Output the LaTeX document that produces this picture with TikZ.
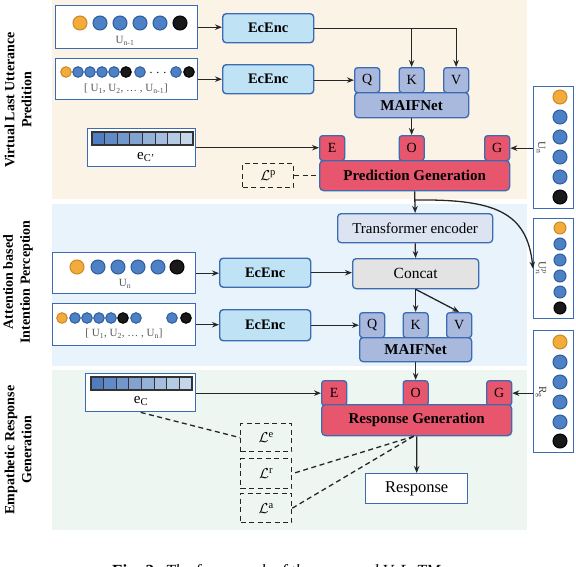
\documentclass[tikz,border=0pt]{standalone}
\usepackage{fontspec}
\setmainfont{Liberation Serif}
\usetikzlibrary{arrows.meta}
\definecolor{bord}{HTML}{3B6CB3}
\definecolor{peach}{HTML}{FCF3E7}
\definecolor{lblue}{HTML}{E9F3FB}
\definecolor{lgreen}{HTML}{EDF6F1}
\definecolor{encc}{HTML}{BFE2F5}
\definecolor{qkvc}{HTML}{A9B9DD}
\definecolor{redc}{HTML}{E8566D}
\definecolor{tec}{HTML}{DCE3F1}
\definecolor{ccc}{HTML}{E3E3E3}
\definecolor{orf}{HTML}{F3AC3C}
\definecolor{ord}{HTML}{C98A25}
\definecolor{blf}{HTML}{4E80C6}
\definecolor{bld}{HTML}{2E5E9E}
\definecolor{sqA}{HTML}{4F7DC0}
\definecolor{sqB}{HTML}{C6D6EA}
\definecolor{labg}{HTML}{555555}
\tikzset{
  ubox/.style={draw=bord, line width=1.4pt, fill=white, anchor=north west, inner sep=0pt},
  enc/.style={draw=bord, line width=1.4pt, fill=encc, rounded corners=3.5pt, anchor=north west,
    font=\bfseries\fontsize{14.5}{16}\selectfont, minimum width=91pt, minimum height=29pt, inner sep=0pt},
  qkv/.style={draw=bord, line width=1.3pt, fill=qkvc, rounded corners=3pt, anchor=north west,
    font=\fontsize{14}{15}\selectfont, minimum width=25pt, minimum height=25pt, inner sep=0pt},
  mbar/.style={draw=bord, line width=1.3pt, fill=qkvc, rounded corners=3.5pt, anchor=north west,
    font=\bfseries\fontsize{15}{16}\selectfont, inner sep=0pt},
  rbox/.style={draw=bord, line width=1.3pt, fill=redc, rounded corners=3pt, anchor=north west,
    font=\fontsize{14}{15}\selectfont, minimum width=25pt, minimum height=25pt, inner sep=0pt},
  rbar/.style={draw=bord, line width=1.3pt, fill=redc, rounded corners=4pt, anchor=north west,
    font=\bfseries\fontsize{15}{16}\selectfont, inner sep=0pt},
  lbox/.style={draw=black!85, line width=1.3pt, dash pattern=on 5pt off 3.5pt, anchor=north west,
    font=\fontsize{15}{16}\selectfont, inner sep=0pt},
  arr/.style={-{Stealth[length=7pt,width=5.5pt]}, line width=1.3pt, draw=black!85},
  dsh/.style={line width=1.3pt, draw=black!85, dash pattern=on 5pt off 3.5pt},
  glab/.style={text=labg, font=\fontsize{11}{12}\selectfont, inner sep=0pt},
  side/.style={rotate=90, align=center, font=\bfseries\fontsize{14}{17}\selectfont},
  orc/.style={fill=orf, draw=ord, line width=1pt},
  blc/.style={fill=blf, draw=bld, line width=1pt},
  bkc/.style={fill=black!90, draw=black, line width=1pt}
}
\begin{document}
\begin{tikzpicture}[x=1pt,y=-1pt]
\useasboundingbox (0,0) rectangle (576,566);
% bands
\fill[peach] (52,0) rectangle (527,199);
\fill[lblue] (52,204) rectangle (527,366);
\fill[lgreen] (52,370) rectangle (527,530);
% side labels
\node[side] (s1) at (18,100) {Virtual Last Utterance\\Predition};
\node[side] (s2) at (18,282) {Attention based\\Intention Perception};
\node[side] (s3) at (18,450) {Empathetic Response\\Generation};

% ---------- top band ----------
\node[ubox, minimum width=142pt, minimum height=43pt] (ub1) at (55,5) {};
\filldraw[orc] (80,23) circle (7pt);
\foreach \x in {100,120,140,160} \filldraw[blc] (\x,23) circle (7pt);
\filldraw[bkc] (180,23) circle (7pt);
\node[glab] (l1) at (125,41) {U\textsubscript{n-1}};

\node[ubox, minimum width=142pt, minimum height=41pt] (ub2) at (55,58) {};
\filldraw[orc] (66,72) circle (5.3pt);
\foreach \x in {78,90,102,114,140,176} \filldraw[blc] (\x,72) circle (5.3pt);
\filldraw[bkc] (126,72) circle (5.3pt);
\filldraw[bkc] (189,72) circle (5.3pt);
\node[inner sep=0pt, font=\fontsize{12}{12}\selectfont] (dt1) at (158,73) {. . .};
\node[glab] (l2) at (126,89) {[ U\textsubscript{1}, U\textsubscript{2}, … , U\textsubscript{n-1}]};

\node[enc] (enc1) at (222,13) {EcEnc};
\node[enc] (enc2) at (222,64) {EcEnc};
\draw[arr] (ub1.east) -- (ub1.east -| enc1.west);
\draw[arr] (ub2.east) -- (ub2.east -| enc2.west);

\node[qkv] (q1) at (354,67) {Q};
\node[qkv] (k1) at (398.5,67) {K};
\node[qkv] (v1) at (443,67) {V};
\node[mbar, minimum width=114pt, minimum height=25pt] (mf1) at (354,92) {MAIFNet};
\draw[arr] (enc2.east |- q1.west) -- (q1.west);
\draw[arr] (enc1.east) -| (v1.north);
\draw[arr] (enc1.east -| k1.north) -- (k1.north);

\node[rbox] (e1) at (319,135) {E};
\node[rbox] (o1) at (398.5,135) {O};
\node[rbox] (g1) at (484,135) {G};
\node[rbar, minimum width=190pt, minimum height=30pt] (pg) at (319,160) {Prediction Generation};
\draw[arr] (mf1.south) -- (o1.north);

\node[ubox, minimum width=108pt, minimum height=38pt] (ecp) at (87,128) {};
\foreach \i in {0,...,7}{
  \pgfmathtruncatemacro\p{100-\i*100/7}
  \filldraw[fill=sqA!\p!sqB, draw=black!80, line width=1.1pt] (92+\i*12.625,132) rectangle ++(12.625,13);
}
\node[inner sep=0pt, font=\fontsize{15}{16}\selectfont] (lecp) at (146,157) {e\textsubscript{C'}};
\draw[arr] (ecp.east) -- (ecp.east -| e1.west);

\node[lbox, minimum width=51pt, minimum height=24pt] (lp) at (242,163) {$\mathcal{L}^{\mathrm{p}}$};
\draw[dsh] (lp.east) -- (lp.east -| pg.west);

% right column
\node[ubox, minimum width=40pt, minimum height=122pt] (un) at (533,86) {};
\filldraw[orc] (560,97) circle (7pt);
\foreach \y in {117,137,157,177} \filldraw[blc] (560,\y) circle (7pt);
\filldraw[bkc] (560,197) circle (7pt);
\node[rotate=-90, glab, text=black!75] (lun) at (541,148) {U\textsubscript{n}};
\draw[arr] (un.west |- g1.east) -- (g1.east);

\node[ubox, minimum width=40pt, minimum height=100pt] (upn) at (533,218) {};
\filldraw[orc] (560,228) circle (6pt);
\foreach \y in {244,260,276,292} \filldraw[blc] (560,\y) circle (6pt);
\filldraw[bkc] (560,308) circle (6pt);
\node[rotate=-90, glab, text=black!75] (lupn) at (541,268) {U$^{p}_{n}$};

\node[ubox, minimum width=40pt, minimum height=122pt] (rgb) at (533,330) {};
\filldraw[orc] (560,342) circle (7pt);
\foreach \y in {362,382,402,422} \filldraw[blc] (560,\y) circle (7pt);
\filldraw[bkc] (560,441) circle (7pt);
\node[rotate=-90, glab, text=black!75] (lrg) at (541,392) {R\textsubscript{g}};

% ---------- middle band ----------
\node[draw=bord, line width=1.3pt, fill=tec, rounded corners=3.5pt, anchor=north west,
  minimum width=155pt, minimum height=29pt, inner sep=0pt, font=\fontsize{15}{16}\selectfont] (te) at (337,213) {Transformer encoder};
\node[draw=bord, line width=1.3pt, fill=ccc, rounded corners=3.5pt, anchor=north west,
  minimum width=126pt, minimum height=30pt, inner sep=0pt, font=\fontsize{15.5}{16}\selectfont] (cc) at (352,258) {Concat};
\draw[arr] (pg.south) -- (te.north);
\coordinate (jn) at (pg.south |- 0,200);
\draw[arr] (jn) .. controls (495,199) and (527,212) .. (upn.west);
\draw[arr] (te.south) -- (cc.north);

\node[ubox, minimum width=143pt, minimum height=41pt] (ub3) at (52,252) {};
\filldraw[orc] (77,267) circle (7pt);
\foreach \x in {98,118,138,158} \filldraw[blc] (\x,267) circle (7pt);
\filldraw[bkc] (177,267) circle (7pt);
\node[glab] (l3) at (125,284) {U\textsubscript{n}};

\node[ubox, minimum width=143pt, minimum height=42pt] (ub4) at (52,303) {};
\filldraw[orc] (62,318) circle (5.3pt);
\foreach \x in {75,87,99,111,136,172} \filldraw[blc] (\x,318) circle (5.3pt);
\filldraw[bkc] (123,318) circle (5.3pt);
\filldraw[bkc] (186,318) circle (5.3pt);
\node[glab] (l4) at (124,334) {[ U\textsubscript{1}, U\textsubscript{2}, … , U\textsubscript{n}]};

\node[enc] (enc3) at (219,257.5) {EcEnc};
\node[enc, minimum height=31pt] (enc4) at (219,309) {EcEnc};
\draw[arr] (ub3.east) -- (ub3.east -| enc3.west);
\draw[arr] (ub4.east) -- (ub4.east -| enc4.west);
\draw[arr] (enc3.east) -- (enc3.east -| cc.west);

\node[qkv] (q2) at (359,312) {Q};
\node[qkv] (k2) at (402.5,312) {K};
\node[qkv] (v2) at (446,312) {V};
\node[mbar, minimum width=112pt, minimum height=24pt] (mf2) at (359,337) {MAIFNet};
\draw[arr] (enc4.east |- q2.west) -- (q2.west);
\draw[arr] (cc.south) -- (k2.north);
\draw[arr] (cc.south) -- (v2.north);

% ---------- bottom band ----------
\node[rbox] (e2) at (321,380) {E};
\node[rbox] (o2) at (402.5,380) {O};
\node[rbox] (g2) at (486,380) {G};
\node[rbar, minimum width=190pt, minimum height=31pt] (rgen) at (321,404) {Response Generation};
\draw[arr] (mf2.south) -- (o2.north);
\draw[arr] (rgb.west |- g2.east) -- (g2.east);

\node[ubox, minimum width=110pt, minimum height=38pt] (ec) at (85,373) {};
\foreach \i in {0,...,7}{
  \pgfmathtruncatemacro\p{100-\i*100/7}
  \filldraw[fill=sqA!\p!sqB, draw=black!80, line width=1.1pt] (91+\i*12.625,377) rectangle ++(12.625,13);
}
\node[inner sep=0pt, font=\fontsize{15}{16}\selectfont] (lec) at (141,401) {e\textsubscript{C}};
\draw[arr] (ec.east |- e2.west) -- (e2.west);

\node[ubox, minimum width=102pt, minimum height=30pt, font=\fontsize{16.5}{17}\selectfont] (resp) at (365,473) {Response};
\draw[arr] (rgen.south) -- (resp.north);

\node[lbox, minimum width=51pt, minimum height=28pt] (le) at (240,423) {$\mathcal{L}^{\mathrm{e}}$};
\node[lbox, minimum width=51pt, minimum height=30pt] (lr) at (240,458) {$\mathcal{L}^{\mathrm{r}}$};
\node[lbox, minimum width=51pt, minimum height=29pt] (la) at (240,493) {$\mathcal{L}^{\mathrm{a}}$};
\draw[dsh] (ec.south) -- (le.west);
\coordinate (rb) at ([xshift=-3pt]rgen.south);
\draw[dsh] (rb) -- (lr.east);
\draw[dsh] (rb) -- (la.east);

% caption (cut by page edge, as in the reference)
\node[anchor=base west, inner sep=0pt, font=\fontsize{17}{18}\selectfont] (cap) at (112,576)
  {\textbf{Fig. 2:} \textit{The framework of the proposed VaLeTM.}};
\end{tikzpicture}
\end{document}
